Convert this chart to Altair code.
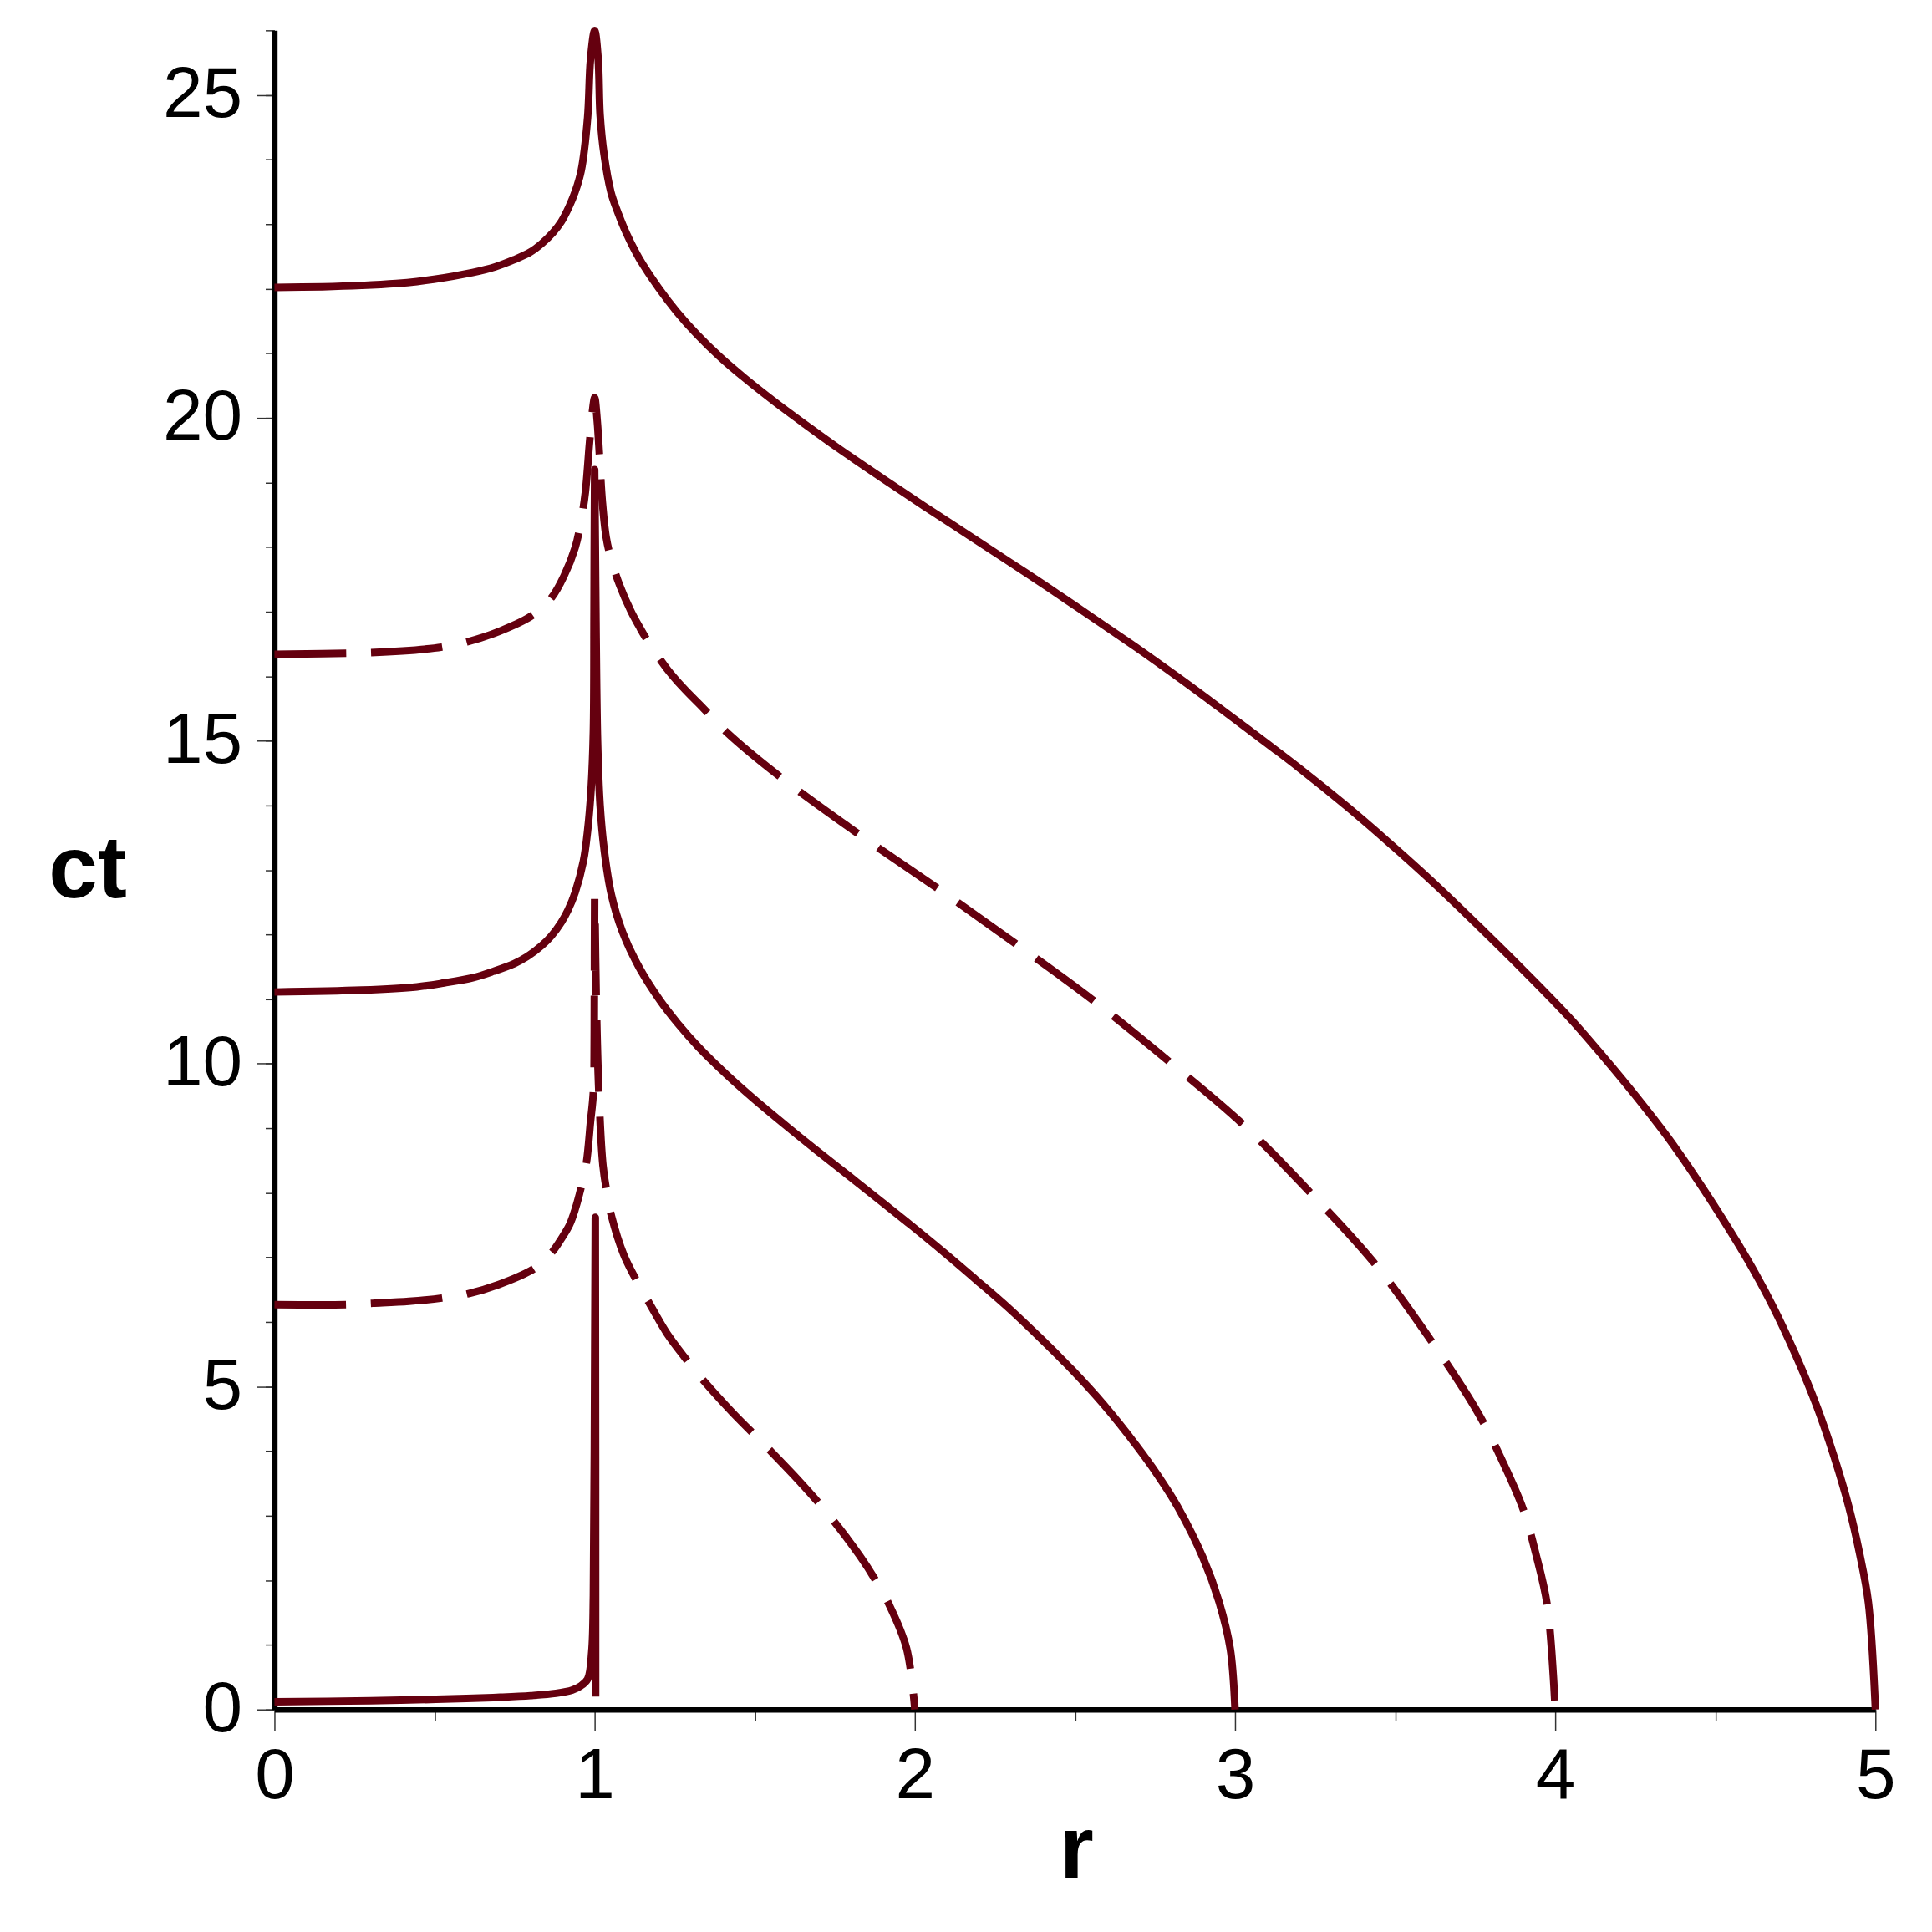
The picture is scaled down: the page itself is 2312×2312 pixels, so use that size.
import altair as alt
import pandas as pd

# ---- curve data (r, ct), each listed from r = 0 through the cusp at r = 1 to the start radius ----
# solid, start radius 5
r_5 = [0.0, 0.15, 0.272, 0.38, 0.445, 0.53, 0.619, 0.69, 0.749, 0.80, 0.835, 0.87, 0.896,
       0.92, 0.939, 0.958, 0.978, 0.987, 1.0, 1.011, 1.017, 1.029, 1.051, 1.071, 1.098,
       1.139, 1.2, 1.257, 1.32, 1.39, 1.47, 1.562, 1.66, 1.761, 1.9, 2.027, 2.16, 2.292,
       2.42, 2.557, 2.69, 2.823, 2.93, 3.046, 3.2, 3.35, 3.479, 3.62, 3.761, 3.9, 4.043,
       4.15, 4.25, 4.35, 4.44, 4.52, 4.6, 4.677, 4.75, 4.818, 4.87, 4.917, 4.95, 4.978, 5.0]
ct_5 = [22.02, 22.03, 22.05, 22.08, 22.11, 22.17, 22.25, 22.34, 22.45, 22.57, 22.70, 22.87, 23.04,
        23.27, 23.50, 23.83, 24.65, 25.55, 26.0, 25.55, 24.69, 24.09, 23.49, 23.20, 22.87,
        22.47, 22.01, 21.64, 21.29, 20.95, 20.61, 20.25, 19.89, 19.53, 19.06, 18.64, 18.21, 17.78,
        17.36, 16.90, 16.45, 15.98, 15.59, 15.16, 14.58, 13.98, 13.43, 12.80, 12.13, 11.45, 10.72,
        10.11, 9.51, 8.87, 8.23, 7.62, 6.97, 6.27, 5.50, 4.68, 3.93, 3.14, 2.43, 1.66, 0.0]

# dashed, start radius 4
r_4 = [0.0, 0.272, 0.4, 0.523, 0.601, 0.705, 0.805, 0.866, 0.905, 0.939, 0.958, 0.971,
       0.984, 0.993, 1.0, 1.008, 1.015, 1.024, 1.036, 1.052, 1.078, 1.113, 1.139, 1.165,
       1.225, 1.273, 1.34, 1.415, 1.58, 1.829, 2.078, 2.32, 2.557, 2.795, 3.025, 3.228,
       3.432, 3.593, 3.758, 3.83, 3.9, 3.94, 3.975, 4.0]
ct_4 = [16.34, 16.36, 16.39, 16.45, 16.53, 16.70, 16.94, 17.22, 17.56, 17.99, 18.42, 18.85,
        19.62, 20.10, 20.31, 19.95, 19.42, 18.70, 18.15, 17.80, 17.41, 17.01, 16.77, 16.55,
        16.12, 15.84, 15.50, 15.12, 14.44, 13.54, 12.69, 11.84, 10.98, 10.03, 9.06, 8.04,
        6.93, 5.85, 4.60, 3.90, 3.10, 2.40, 1.62, 0.0]

# solid, start radius 3
r_3 = [0.0, 0.272, 0.445, 0.53, 0.619, 0.684, 0.749, 0.79, 0.835, 0.865, 0.896, 0.917,
       0.939, 0.965, 0.978, 0.989, 0.996, 0.998, 1.0, 1.003, 1.009, 1.017, 1.030, 1.052,
       1.087, 1.139, 1.204, 1.26, 1.324, 1.41, 1.496, 1.6, 1.695, 1.795, 1.894, 1.99, 2.093,
       2.19, 2.292, 2.39, 2.491, 2.59, 2.690, 2.757, 2.823, 2.9, 2.95, 2.985, 3.0]
ct_3 = [11.11, 11.14, 11.19, 11.25, 11.33, 11.43, 11.55, 11.66, 11.83, 11.98, 12.19, 12.38,
        12.65, 13.14, 13.61, 14.26, 15.15, 17.00, 19.20, 17.50, 15.00, 14.00, 13.30, 12.62,
        12.04, 11.49, 10.98, 10.62, 10.26, 9.84, 9.46, 9.03, 8.65, 8.26, 7.87, 7.49, 7.07,
        6.66, 6.22, 5.76, 5.26, 4.72, 4.10, 3.64, 3.12, 2.35, 1.67, 0.94, 0.0]

# dashed, start radius 2
r_2 = [0.0, 0.224, 0.307, 0.42, 0.523, 0.606, 0.70, 0.809, 0.84, 0.870, 0.896, 0.922,
       0.940, 0.957, 0.974, 0.987, 0.996, 0.999, 1.0, 1.005, 1.013, 1.026, 1.039, 1.052,
       1.091, 1.130, 1.18, 1.225, 1.28, 1.33, 1.43, 1.54, 1.642, 1.74, 1.828, 1.875, 1.92,
       1.974, 2.0]
ct_2 = [6.27, 6.27, 6.29, 6.32, 6.37, 6.44, 6.58, 6.82, 6.95, 7.10, 7.29, 7.51,
        7.76, 8.07, 8.46, 9.10, 9.57, 11.00, 12.55, 11.00, 9.57, 8.42, 7.98, 7.65,
        7.04, 6.65, 6.21, 5.83, 5.46, 5.15, 4.60, 4.05, 3.52, 2.96, 2.38, 2.02, 1.62,
        0.95, 0.0]

# solid, start radius just above 1
r_1 = [0.0, 0.300, 0.445, 0.600, 0.705, 0.800, 0.879, 0.930, 0.955, 0.978, 0.991, 0.996,
       0.999, 1.002, 1.003]
ct_1 = [0.12, 0.135, 0.15, 0.17, 0.19, 0.215, 0.25, 0.30, 0.36, 0.47, 0.90, 1.76,
        4.00, 7.62, 0.20]

curves = [
    ("r0=5", "solid", r_5, ct_5),
    ("r0=4", "dashed", r_4, ct_4),
    ("r0=3", "solid", r_3, ct_3),
    ("r0=2", "dashed", r_2, ct_2),
    ("r0=1", "solid", r_1, ct_1),
]

x_major = [0, 1, 2, 3, 4, 5]
x_minor = [0.5, 1.5, 2.5, 3.5, 4.5]
y_major = [0, 5, 10, 15, 20, 25]
y_minor = list(range(0, 27))

rows = []
for name, style, rs, cts in curves:
    assert len(rs) == len(cts), name
    for i, (r, c) in enumerate(zip(rs, cts)):
        rows.append({"curve": name, "style": style, "r": r, "ct": c, "idx": i})
df = pd.DataFrame(rows)

COLOR = "#65000F"
FONT = "Liberation Sans"
W, H = 1925, 2019

xs = alt.Scale(domain=[0, 5], nice=False, zero=False)
ys = alt.Scale(domain=[0, 26], nice=False, zero=False)

x_axis = alt.Axis(
    values=x_major, orient="bottom", tickSize=25, tickWidth=1.5, tickColor="#333333",
    domainColor="black", domainWidth=6.5, labelFont=FONT, labelFontSize=86,
    labelColor="black", labelPadding=13, labelFlush=False, labelOverlap=False,
    grid=False, format="d",
    title="r", titleFont=FONT, titleFontSize=106, titleFontWeight="bold",
    titleColor="black", titleAlign="center", titleBaseline="alphabetic",
    titleX=964, titleY=202,
)
y_axis = alt.Axis(
    values=y_major, orient="left", tickSize=22, tickWidth=1.5, tickColor="#333333",
    domainColor="black", domainWidth=6.5, labelFont=FONT, labelFontSize=86,
    labelColor="black", labelPadding=17, labelFlush=False, labelOverlap=False,
    grid=False, format="d",
    title="ct", titleFont=FONT, titleFontSize=106, titleFontWeight="bold",
    titleColor="black", titleAngle=0, titleAlign="center", titleBaseline="alphabetic",
    titleX=-225, titleY=1042,
)
x_axis_minor = alt.Axis(values=x_minor, orient="bottom", tickSize=13, tickWidth=1.5,
                        tickColor="#333333", labels=False, domain=False, grid=False, title=None)
y_axis_minor = alt.Axis(values=y_minor, orient="left", tickSize=11, tickWidth=1.5,
                        tickColor="#333333", labels=False, domain=False, grid=False, title=None)

base = alt.Chart(df)

line_style = dict(color=COLOR, strokeWidth=9, strokeJoin="round", strokeCap="butt",
                  interpolate="catmull-rom")

solid = base.transform_filter(alt.datum.style == "solid").mark_line(**line_style).encode(
    x=alt.X("r:Q", scale=xs, axis=x_axis),
    y=alt.Y("ct:Q", scale=ys, axis=y_axis),
    detail="curve:N",
    order="idx:Q",
)

dashed = base.transform_filter(alt.datum.style == "dashed").mark_line(
    strokeDash=[86, 30], **line_style
).encode(
    x=alt.X("r:Q", scale=xs, axis=None),
    y=alt.Y("ct:Q", scale=ys, axis=None),
    detail="curve:N",
    order="idx:Q",
)

minor = base.mark_point(opacity=0).encode(
    x=alt.X("r:Q", scale=xs, axis=x_axis_minor),
    y=alt.Y("ct:Q", scale=ys, axis=y_axis_minor),
)

chart = alt.layer(minor, solid, dashed).resolve_axis(
    x="independent", y="independent"
).properties(
    width=W, height=H,
    autosize=alt.AutoSizeParams(type="none"),
    padding={"left": 322, "top": 23, "right": 60, "bottom": 250},
    background="white",
).configure_view(stroke=None)

chart.save("out.html", embed_options={"renderer": "svg", "actions": False})
